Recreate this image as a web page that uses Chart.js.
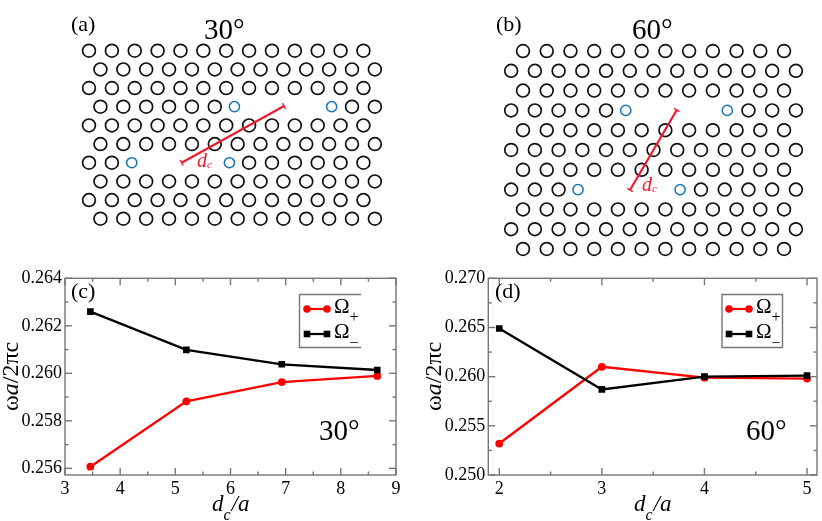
<!DOCTYPE html>
<html>
<head>
<meta charset="utf-8">
<title>Photonic crystal cavities</title>
<script src="https://cdn.jsdelivr.net/npm/chart.js@4/dist/chart.umd.min.js"></script>
<style>
  html, body { margin: 0; padding: 0; background: #fff; }
  #fig { position: relative; width: 822px; height: 521px; overflow: hidden; }
  .panel { position: absolute; }
  canvas { display: block; }
</style>
</head>
<body>
<div id="fig">
  <div class="panel" style="left:0;top:0;width:411px;height:260px"><canvas id="panelA"></canvas></div>
  <div class="panel" style="left:411px;top:0;width:411px;height:260px"><canvas id="panelB"></canvas></div>
  <div class="panel" style="left:0;top:260px;width:411px;height:261px"><canvas id="panelC"></canvas></div>
  <div class="panel" style="left:411px;top:260px;width:411px;height:261px"><canvas id="panelD"></canvas></div>
</div>
<script>
// lattice columns, in lattice units
const colsA = [0, 1, 2, 3, 4, 5, 6, 7, 8, 9, 10, 11, 12]
const colsShiftA = [0.5, 1.5, 2.5, 3.5, 4.5, 5.5, 6.5, 7.5, 8.5, 9.5, 10.5, 11.5, 12.5]
const colsB = [0, 1, 2, 3, 4, 5, 6, 7, 8, 9, 10, 11]
const colsShiftB = [-0.5, 0.5, 1.5, 2.5, 3.5, 4.5, 5.5, 6.5, 7.5, 8.5, 9.5, 10.5, 11.5]

// row number -> hole columns
const rowsA = [colsA, colsShiftA, colsA, [0.5, 1.5, 2.5, 3.5, 4.5, 5.5, 11.5, 12.5], colsA,
               colsShiftA, [0, 1, 7, 8, 9, 10, 11, 12], colsShiftA, colsA, colsShiftA]
const rowsB = [colsB, colsShiftB, colsB, [-0.5, 0.5, 1.5, 2.5, 3.5, 9.5, 10.5, 11.5], colsB, colsShiftB,
               colsB, [-0.5, 0.5, 1.5, 7.5, 8.5, 9.5, 10.5, 11.5], colsB, colsShiftB, colsB]

// displaced holes and separation line
const blueA = [{x: 6.36, y: 3}, {x: 10.61, y: 3}, {x: 1.87, y: 6}, {x: 6.14, y: 6}]
const blueB = [{x: 4.33, y: 3}, {x: 8.61, y: 3}, {x: 2.32, y: 7}, {x: 6.62, y: 7}]
const sepA = [{x: 8.53, y: 2.96}, {x: 4.05, y: 6}]
const sepB = [{x: 6.48, y: 2.98}, {x: 4.51, y: 7.02}]

// frequency curves
const dcC = [3.46, 5.2, 6.93, 8.66]
const plusC = [0.25607, 0.25882, 0.25963, 0.25989]
const minusC = [0.2626, 0.26099, 0.26038, 0.26014]
const dcD = [2, 3, 4, 5]
const plusD = [0.2532, 0.261, 0.2599, 0.2598]
const minusD = [0.2649, 0.2587, 0.26, 0.2601]

const xTicksC = [3, 4, 5, 6, 7, 8, 9]
const xMinorC = [3.5, 4.5, 5.5, 6.5, 7.5, 8.5]
const yTicksC = [0.256, 0.258, 0.26, 0.262, 0.264]
const yMinorC = [0.257, 0.259, 0.261, 0.263]
const xTicksD = [2, 3, 4, 5]
const xMinorD = [2.5, 3.5, 4.5]
const yTicksD = [0.25, 0.255, 0.26, 0.265, 0.27]
const yMinorD = [0.2525, 0.2575, 0.2625, 0.2675]

const serif = '"Liberation Serif", "Times New Roman", serif'
const RED = '#fe0000'
const FRAME = '#767676'

// text runs: italic / sub parts are drawn one after the other from a baseline
function drawRuns(ctx, item) {
    ctx.save()
    ctx.translate(item.x, item.y)
    if (item.rot) ctx.rotate(item.rot)
    ctx.textBaseline = 'alphabetic'
    ctx.textAlign = 'left'
    let cx = 0
    item.runs.forEach(r => {
        ctx.font = (r.style || '') + ' ' + r.size + 'px ' + serif
        ctx.fillStyle = item.color || '#000'
        ctx.fillText(r.t, cx + (r.dx || 0), r.dy || 0)
        cx += ctx.measureText(r.t).width + (r.dx || 0)
    })
    ctx.restore()
}

const panelText = {
    id: 'panelText',
    afterDraw(chart, args, opts) {
        (opts.items || []).forEach(item => drawRuns(chart.ctx, item))
    }
}

// inward ticks on all four sides plus the frame
const frameTicks = {
    id: 'frameTicks',
    afterDatasetsDraw(chart, args, opts) {
        if (!opts.xMajor) return
        const {ctx, chartArea: a, scales} = chart
        ctx.save()
        ctx.strokeStyle = FRAME
        ctx.lineWidth = 1.4
        const tick = (x1, y1, x2, y2) => { ctx.beginPath(); ctx.moveTo(x1, y1); ctx.lineTo(x2, y2); ctx.stroke() }
        const doX = (vals, len) => vals.forEach(v => {
            const p = scales.x.getPixelForValue(v)
            tick(p, a.bottom, p, a.bottom - len)
            tick(p, a.top, p, a.top + len)
        })
        const doY = (vals, len) => vals.forEach(v => {
            const p = scales.y.getPixelForValue(v)
            tick(a.left, p, a.left + len, p)
            tick(a.right, p, a.right - len, p)
        })
        doX(opts.xMajor, 7); doX(opts.xMinor, 3.5)
        doY(opts.yMajor, 7); doY(opts.yMinor, 3.5)
        ctx.strokeRect(a.left, a.top, a.right - a.left, a.bottom - a.top)
        ctx.restore()
    }
}

// legend box with marker-line-marker samples
const lineLegend = {
    id: 'lineLegend',
    afterDraw(chart, args, opts) {
        if (!opts.box) return
        const ctx = chart.ctx
        const [x0, y0, x1, y1] = opts.box
        ctx.save()
        ctx.fillStyle = '#fff'
        ctx.fillRect(x0, y0, x1 - x0, y1 - y0)
        ctx.strokeStyle = FRAME
        ctx.lineWidth = 1.4
        ctx.beginPath()
        ctx.moveTo(x1, y0); ctx.lineTo(x0, y0); ctx.lineTo(x0, y1); ctx.lineTo(x1, y1)
        if (opts.closed) ctx.closePath()
        ctx.stroke()
        opts.rows.forEach(row => {
            const ds = chart.data.datasets[row.dataset]
            ctx.strokeStyle = ds.borderColor
            ctx.fillStyle = ds.borderColor
            ctx.lineWidth = 2.2
            ctx.beginPath(); ctx.moveTo(opts.sampleX[0], row.y); ctx.lineTo(opts.sampleX[1], row.y); ctx.stroke()
            opts.sampleX.forEach(sx => {
                if (ds.pointStyle === 'rect') {
                    ctx.fillRect(sx - 3.3, row.y - 3.3, 6.6, 6.6)
                } else {
                    ctx.beginPath(); ctx.arc(sx, row.y, 3.8, 0, Math.PI * 2); ctx.fill()
                }
            })
            drawRuns(ctx, {x: opts.textX, y: row.y + 4, runs: [
                {t: 'Ω', size: 21},
                {t: row.sub, size: 16, dy: row.subDy}
            ]})
        })
        ctx.restore()
    }
}

Chart.register(panelText, frameTicks, lineLegend)
Chart.defaults.animation = false
Chart.defaults.responsive = false
Chart.defaults.devicePixelRatio = 1

function latticeChart(id, rows, blue, sep, xr, yr, capRot, items) {
    const holes = rows.flatMap((cols, r) => cols.map(c => ({x: c, y: r})))
    const canvas = document.getElementById(id)
    canvas.width = 411
    canvas.height = 260
    return new Chart(canvas, {
        type: 'scatter',
        data: {
            datasets: [
                {data: sep, showLine: true, borderColor: '#ee1c2e', borderWidth: 2.2, pointStyle: 'line',
                 pointRadius: 3.2, pointBorderColor: '#ee1c2e', pointBorderWidth: 1.4, pointRotation: capRot},
                {data: blue, pointRadius: 5.1, pointBackgroundColor: 'transparent',
                 pointBorderColor: '#1874b8', pointBorderWidth: 1.5},
                {data: holes, pointRadius: 6.4, pointBackgroundColor: 'transparent',
                 pointBorderColor: '#111', pointBorderWidth: 1.7}
            ]
        },
        options: {
            layout: {padding: 0, autoPadding: false},
            plugins: {legend: {display: false}, tooltip: {enabled: false}, panelText: {items}},
            scales: {
                x: {display: false, min: xr[0], max: xr[1]},
                y: {display: false, min: yr[0], max: yr[1], reverse: true}
            }
        }
    })
}

function curveChart(id, dc, plus, minus, cfg) {
    const canvas = document.getElementById(id)
    canvas.width = 411
    canvas.height = 261
    const pts = ys => ys.map((y, i) => ({x: dc[i], y}))
    return new Chart(canvas, {
        type: 'scatter',
        data: {
            datasets: [
                {label: 'Ω−', data: pts(minus), showLine: true, borderColor: '#000', borderWidth: 2.3,
                 pointStyle: 'rect', pointRadius: 4.7, pointBackgroundColor: '#000', pointBorderWidth: 0},
                {label: 'Ω+', data: pts(plus), showLine: true, borderColor: RED, borderWidth: 2.3,
                 pointStyle: 'circle', pointRadius: 3.9, pointBackgroundColor: RED, pointBorderWidth: 0}
            ]
        },
        options: {
            layout: {padding: cfg.padding, autoPadding: false},
            plugins: {
                legend: {display: false},
                tooltip: {enabled: false},
                panelText: {items: cfg.items},
                frameTicks: {xMajor: cfg.xTicks, xMinor: cfg.xMinor, yMajor: cfg.yTicks, yMinor: cfg.yMinor},
                lineLegend: cfg.legend
            },
            scales: {
                x: {
                    min: cfg.xr[0], max: cfg.xr[1],
                    grid: {display: false, drawTicks: false},
                    border: {display: false},
                    afterBuildTicks: s => { s.ticks = cfg.xTicks.map(value => ({value})) },
                    afterFit: s => { s.height = 46 },
                    ticks: {color: '#000', padding: 3, maxRotation: 0, autoSkip: false,
                            font: {family: serif, size: 18}, callback: v => String(v)}
                },
                y: {
                    min: cfg.yr[0], max: cfg.yr[1],
                    grid: {display: false, drawTicks: false},
                    border: {display: false},
                    afterBuildTicks: s => { s.ticks = cfg.yTicks.map(value => ({value})) },
                    afterFit: s => { s.width = cfg.yWidth },
                    ticks: {color: '#000', padding: 3, autoSkip: false,
                            font: {family: serif, size: 18}, callback: v => v.toFixed(3)}
                }
            }
        }
    })
}

const big = t => [{t, size: 29}]
const tag = t => [{t, size: 22}]
const dcLabel = (size, subSize) => [{t: 'd', size, style: 'italic'}, {t: 'c', size: subSize, style: 'italic', dy: 1}]
const axisX = [{t: 'd', size: 23, style: 'italic'}, {t: 'c', size: 16, style: 'italic', dy: 9},
               {t: '/a', size: 23, style: 'italic', dx: 1}]
const axisY = [{t: 'ω', size: 24}, {t: 'a', size: 24, style: 'italic'}, {t: '/2πc', size: 24}]

latticeChart('panelA', rowsA, blueA, sepA, [-3.892, 14.08], [-2.716, 11.21], 61, [
    {x: 71, y: 31, runs: tag('(a)')},
    {x: 204, y: 39, runs: big('30°')},
    {x: 197, y: 167, color: '#ee1c2e', runs: dcLabel(20, 11)}
])
latticeChart('panelB', rowsB, blueB, sepB, [-4.72, 12.6], [-2.576, 10.556], 30, [
    {x: 85, y: 31, runs: tag('(b)')},
    {x: 221, y: 39, runs: big('60°')},
    {x: 231, y: 191, color: '#ee1c2e', runs: dcLabel(20, 11)}
])

curveChart('panelC', dcC, plusC, minusC, {
    padding: {left: 0, top: 18.3, right: 15, bottom: 0},
    yWidth: 65,
    xr: [3, 9], yr: [0.25572, 0.264],
    xTicks: xTicksC, xMinor: xMinorC, yTicks: yTicksC, yMinor: yMinorC,
    legend: {box: [299.5, 34.5, 361, 87.5], closed: false, sampleX: [307, 327], textX: 334,
             rows: [{dataset: 1, y: 49, sub: '+', subDy: 9}, {dataset: 0, y: 74, sub: '−', subDy: 10}]},
    items: [
        {x: 71, y: 38, runs: tag('(c)')},
        {x: 319, y: 180, runs: big('30°')},
        {x: 18, y: 151, rot: -Math.PI / 2, runs: axisY},
        {x: 212, y: 251, runs: axisX}
    ]
})
curveChart('panelD', dcD, plusD, minusD, {
    padding: {left: 0, top: 18.3, right: 5, bottom: 0},
    yWidth: 77.3,
    xr: [1.893, 5.097], yr: [0.25, 0.27],
    xTicks: xTicksD, xMinor: xMinorD, yTicks: yTicksD, yMinor: yMinorD,
    legend: {box: [311, 34.5, 371.5, 87.5], closed: true, sampleX: [318, 338], textX: 345,
             rows: [{dataset: 1, y: 49, sub: '+', subDy: 9}, {dataset: 0, y: 74, sub: '−', subDy: 10}]},
    items: [
        {x: 84, y: 38, runs: tag('(d)')},
        {x: 335, y: 180, runs: big('60°')},
        {x: 30, y: 151, rot: -Math.PI / 2, runs: axisY},
        {x: 223, y: 251, runs: axisX}
    ]
})
</script>
</body>
</html>
